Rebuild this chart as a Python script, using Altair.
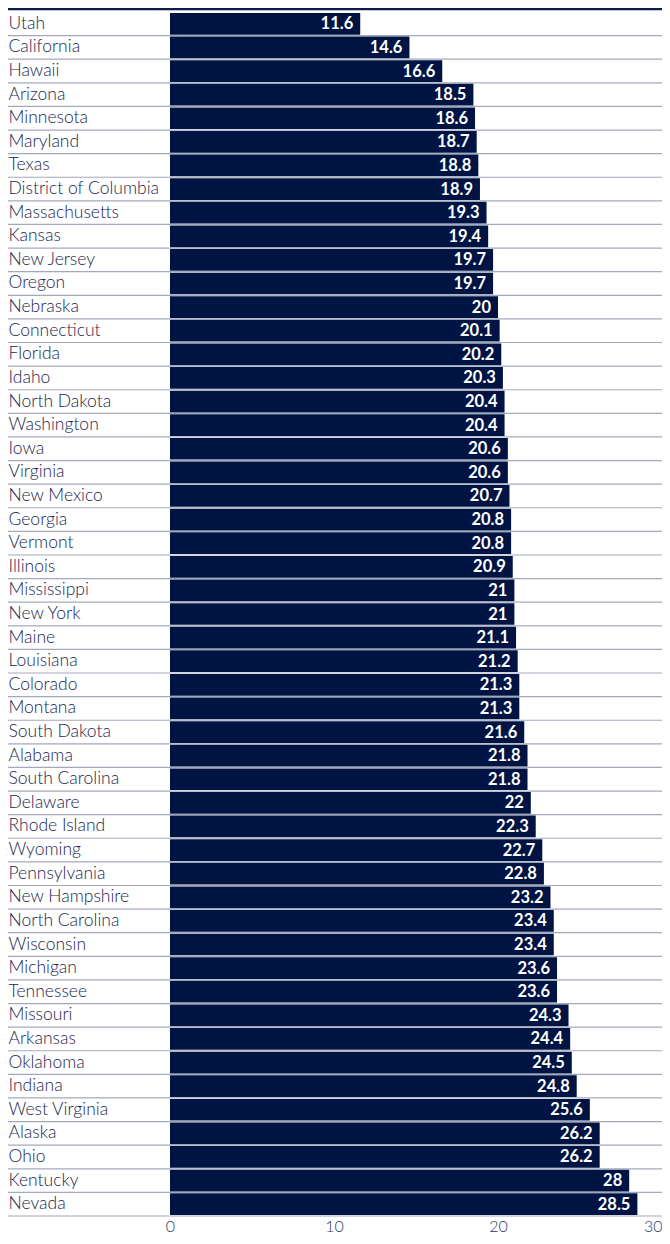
import altair as alt
import pandas as pd

states = ["Utah", "California", "Hawaii", "Arizona", "Minnesota", "Maryland", "Texas",
          "District of Columbia", "Massachusetts", "Kansas", "New Jersey", "Oregon", "Nebraska",
          "Connecticut", "Florida", "Idaho", "North Dakota", "Washington", "Iowa", "Virginia",
          "New Mexico", "Georgia", "Vermont", "Illinois", "Mississippi", "New York", "Maine",
          "Louisiana", "Colorado", "Montana", "South Dakota", "Alabama", "South Carolina",
          "Delaware", "Rhode Island", "Wyoming", "Pennsylvania", "New Hampshire",
          "North Carolina", "Wisconsin", "Michigan", "Tennessee", "Missouri", "Arkansas",
          "Oklahoma", "Indiana", "West Virginia", "Alaska", "Ohio", "Kentucky", "Nevada"]
values = [11.6, 14.6, 16.6, 18.5, 18.6, 18.7, 18.8, 18.9, 19.3, 19.4, 19.7, 19.7, 20,
          20.1, 20.2, 20.3, 20.4, 20.4, 20.6, 20.6, 20.7, 20.8, 20.8, 20.9, 21, 21, 21.1,
          21.2, 21.3, 21.3, 21.6, 21.8, 21.8, 22, 22.3, 22.7, 22.8, 23.2, 23.4, 23.4, 23.6,
          23.6, 24.3, 24.4, 24.5, 24.8, 25.6, 26.2, 26.2, 28, 28.5]
x_ticks = [0, 10, 20, 30]

df = pd.DataFrame({"state": states, "value": values})
df["label"] = df["value"].map(lambda v: f"{v:g}")

NAVY = "#001443"
TEXT = "#1a2550"
GRID = "#a3a9bd"
FONT = "Lato"
W, H = 492, 1204
LEFT = 162

yscale = alt.Scale(domain=states, paddingInner=0, paddingOuter=0)

base = alt.Chart(df)

bars = base.mark_bar(color=NAVY, height={"band": 0.92}).encode(
    x=alt.X("value:Q", scale=alt.Scale(domain=[0, 30], nice=False),
            axis=alt.Axis(title=None, values=x_ticks, ticks=False, domain=False, grid=False,
                          labelFont=FONT, labelFontSize=16, labelFontWeight=300,
                          labelColor="#2a3868", labelPadding=2,
                          labelAlign={"condition": {"test": "datum.value == 30", "value": "right"},
                                      "value": "center"})),
    y=alt.Y("state:N", sort=states, scale=yscale,
            axis=alt.Axis(title=None, ticks=False, tickSize=0, domain=False, grid=False,
                          labelAlign="left", labelPadding=LEFT, labelLimit=0,
                          labelFont=FONT, labelFontSize=17.5, labelFontWeight=300,
                          labelColor=TEXT)),
)

seps = base.mark_rule(color=GRID, strokeWidth=1.2).encode(
    y=alt.Y("state:N", sort=states, scale=yscale, bandPosition=1),
    x=alt.value(-LEFT),
    x2=alt.value(W),
)

texts = base.mark_text(align="right", baseline="middle", dx=-7, dy=0.5, color="white",
                       font=FONT, fontSize=16.5, fontWeight="bold").encode(
    x=alt.X("value:Q"),
    y=alt.Y("state:N", sort=states, scale=yscale),
    text="label:N",
)

top = alt.Chart(pd.DataFrame({"a": [0]})).mark_rule(color="#0f1b48", strokeWidth=2.5).encode(
    x=alt.value(-LEFT), x2=alt.value(W), y=alt.value(-3)
)

chart = alt.layer(seps, bars, texts, top).properties(
    width=W, height=H,
    autosize=alt.AutoSizeParams(type="none"),
    padding={"left": LEFT, "top": 4, "right": 0, "bottom": 18},
).configure_view(stroke=None)

chart.save("out.html", embed_options={"renderer": "svg", "actions": False})
